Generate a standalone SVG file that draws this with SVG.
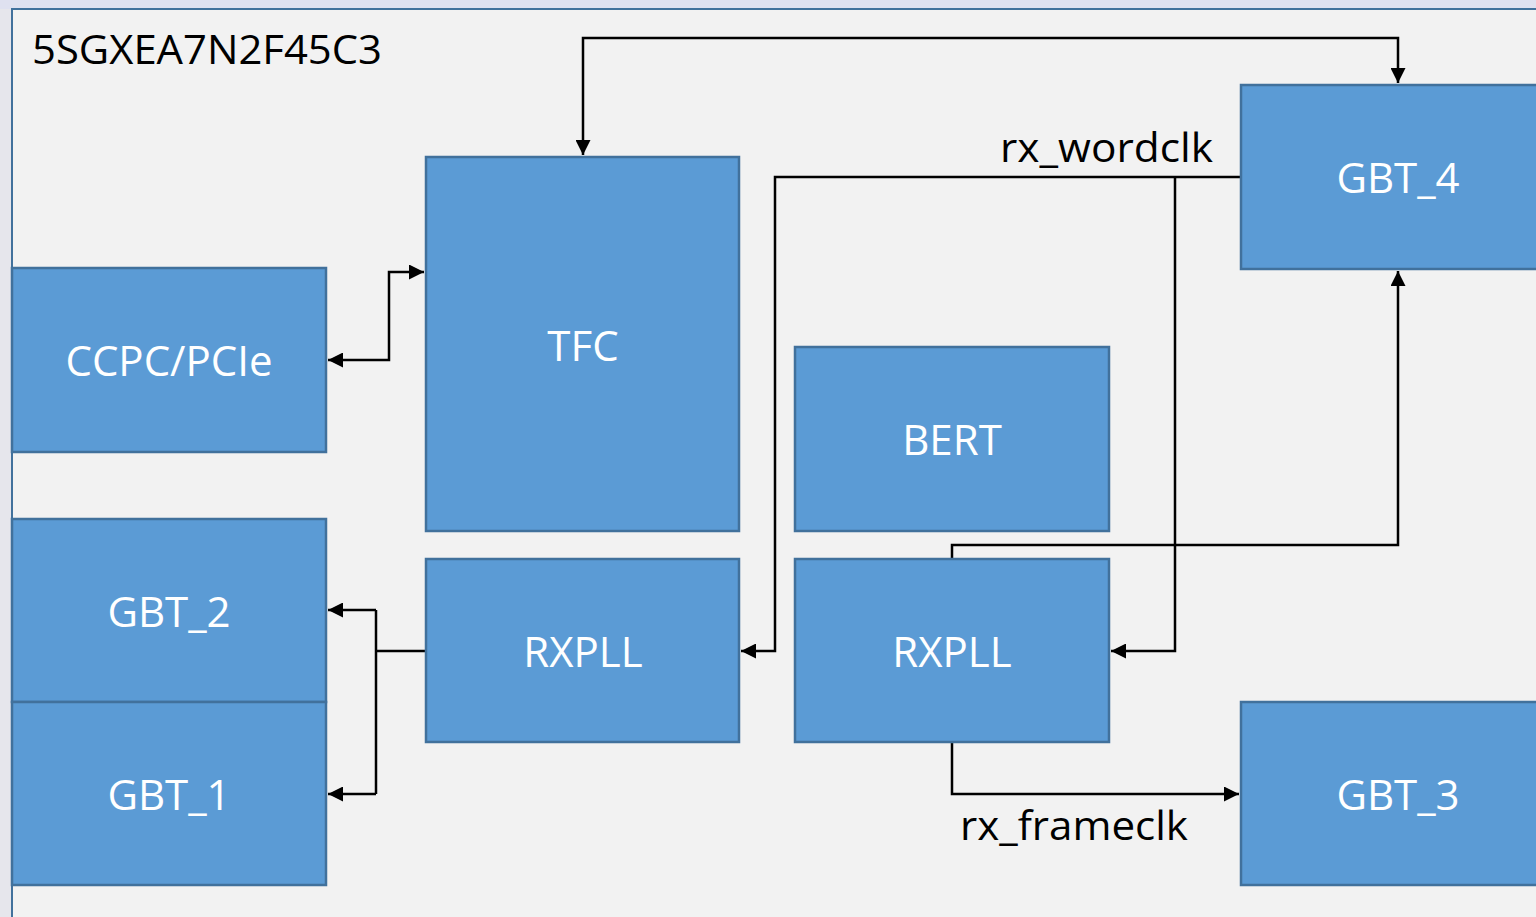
<svg xmlns="http://www.w3.org/2000/svg" width="1536" height="917" viewBox="0 0 1536 917">
<style>
.box{fill:#5b9bd5;stroke:#41719c;stroke-width:2.5}
.lbl{font-family:"Open Sans","Liberation Sans",sans-serif;font-size:42px;fill:#ffffff;text-anchor:middle}
.txt{font-family:"Open Sans","Liberation Sans",sans-serif;font-size:40px;fill:#000000}
.wire{fill:none;stroke:#000000;stroke-width:2.5}
</style>
<defs>
<marker id="arr" viewBox="0 0 10 10" refX="10" refY="5" markerWidth="6.5" markerHeight="6" markerUnits="strokeWidth" orient="auto-start-reverse">
<path d="M0,0 L10,5 L0,10 z" fill="#000000"/>
</marker>
</defs>
<rect x="0" y="0" width="1536" height="917" fill="#e6e6ec"/>
<rect x="0" y="0" width="1536" height="9" fill="#dfe1f0"/>
<rect x="12" y="9" width="1540" height="920" fill="#f2f2f2" stroke="#41719c" stroke-width="2"/>
<text class="txt" x="32" y="64" textLength="350" lengthAdjust="spacingAndGlyphs">5SGXEA7N2F45C3</text>

<g id="connectors">
<path class="wire" d="M583,155 L583,38 L1398,38 L1398,83" marker-start="url(#arr)" marker-end="url(#arr)"/>
<path class="wire" d="M328,360 L389,360 L389,272 L424,272" marker-start="url(#arr)" marker-end="url(#arr)"/>
<path class="wire" d="M1241,177 L775,177 L775,651 L741,651" marker-end="url(#arr)"/>
<path class="wire" d="M1175,177 L1175,651 L1111,651" marker-end="url(#arr)"/>
<path class="wire" d="M952,559 L952,545 L1398,545 L1398,271" marker-end="url(#arr)"/>
<path class="wire" d="M952,742 L952,794 L1239,794" marker-end="url(#arr)"/>
<path class="wire" d="M426,651 L376,651"/>
<path class="wire" d="M376,610 L376,794"/>
<path class="wire" d="M376,610 L328,610" marker-end="url(#arr)"/>
<path class="wire" d="M376,794 L328,794" marker-end="url(#arr)"/>
<text class="txt" x="1000" y="162" textLength="213" lengthAdjust="spacingAndGlyphs">rx_wordclk</text>
<text class="txt" x="960" y="840" textLength="228" lengthAdjust="spacingAndGlyphs">rx_frameclk</text>
</g>

<g id="ccpc"><rect class="box" x="12" y="268" width="314" height="184"/><text class="lbl" x="169" y="376">CCPC/PCIe</text></g>
<g id="tfc"><rect class="box" x="426" y="157" width="313" height="374"/><text class="lbl" x="583" y="361">TFC</text></g>
<g id="bert"><rect class="box" x="795" y="347" width="314" height="184"/><text class="lbl" x="952" y="455">BERT</text></g>
<g id="gbt2"><rect class="box" x="12" y="519" width="314" height="183"/><text class="lbl" x="169" y="627">GBT_2</text></g>
<g id="gbt1"><rect class="box" x="12" y="702" width="314" height="183"/><text class="lbl" x="169" y="810">GBT_1</text></g>
<g id="rxpll1"><rect class="box" x="426" y="559" width="313" height="183"/><text class="lbl" x="583" y="667">RXPLL</text></g>
<g id="rxpll2"><rect class="box" x="795" y="559" width="314" height="183"/><text class="lbl" x="952" y="667">RXPLL</text></g>
<g id="gbt4"><rect class="box" x="1241" y="85" width="320" height="184"/><text class="lbl" x="1398" y="193">GBT_4</text></g>
<g id="gbt3"><rect class="box" x="1241" y="702" width="320" height="183"/><text class="lbl" x="1398" y="810">GBT_3</text></g>
</svg>
